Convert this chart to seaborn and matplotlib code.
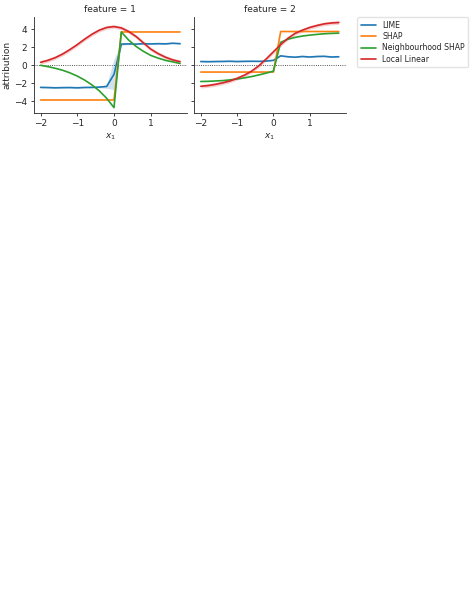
import numpy as np
import pandas as pd
import matplotlib
matplotlib.use('Agg')
import matplotlib.pyplot as plt
import seaborn as sns

# grid of x_1 values
x1 = np.round(np.arange(-2.0, 1.81, 0.2), 1)
methods = ['LIME', 'SHAP', 'Neighbourhood SHAP', 'Local Linear']

# feature = 1
lime_f1 = [-2.45, -2.47, -2.5, -2.48, -2.47, -2.5, -2.46, -2.45, -2.42, -2.35,
           -1.0, 2.35, 2.38, 2.35, 2.4, 2.37, 2.4, 2.38, 2.45, 2.4]
lime_f1_err = [0.06, 0.06, 0.06, 0.06, 0.06, 0.06, 0.06, 0.06, 0.08, 0.2,
               1.7, 0.15, 0.08, 0.06, 0.06, 0.06, 0.06, 0.06, 0.06, 0.06]
shap_f1 = [-3.85] * 11 + [3.7] * 9
nshap_f1 = [0.0, -0.15, -0.33, -0.55, -0.84, -1.2, -1.64, -2.18, -2.84, -3.66,
            -4.7, 3.7, 2.8, 2.1, 1.55, 1.1, 0.8, 0.55, 0.38, 0.2]
loclin_f1 = [0.33, 0.55, 0.85, 1.25, 1.75, 2.3, 2.9, 3.45, 3.9, 4.2,
             4.3, 4.15, 3.75, 3.2, 2.5, 1.8, 1.3, 0.9, 0.6, 0.4]

# feature = 2
lime_f2 = [0.42, 0.4, 0.42, 0.43, 0.45, 0.42, 0.44, 0.45, 0.44, 0.47,
           0.55, 1.05, 0.95, 0.9, 0.98, 0.92, 0.98, 1.0, 0.92, 0.95]
lime_f2_err = [0.05] * 20
shap_f2 = [-0.75] * 11 + [3.75] * 9
nshap_f2 = [-1.8, -1.78, -1.74, -1.7, -1.62, -1.52, -1.4, -1.25, -1.07, -0.87,
            -0.65, 2.55, 2.9, 3.1, 3.25, 3.35, 3.43, 3.5, 3.54, 3.57]
loclin_f2 = [-2.33, -2.25, -2.12, -1.95, -1.75, -1.45, -1.1, -0.65, -0.05, 0.7,
             1.5, 2.3, 3.0, 3.55, 3.9, 4.2, 4.42, 4.6, 4.7, 4.75]
loclin_err = [0.2] * 20

series = {
    1: {'LIME': lime_f1, 'SHAP': shap_f1, 'Neighbourhood SHAP': nshap_f1, 'Local Linear': loclin_f1},
    2: {'LIME': lime_f2, 'SHAP': shap_f2, 'Neighbourhood SHAP': nshap_f2, 'Local Linear': loclin_f2},
}
bands = {
    1: {'LIME': lime_f1_err, 'Local Linear': loclin_err},
    2: {'LIME': lime_f2_err, 'Local Linear': loclin_err},
}

rows = []
for feat, d in series.items():
    for m in methods:
        for xv, yv in zip(x1, d[m]):
            rows.append({'feature': feat, 'method': m, 'x1': xv, 'attribution': yv})
df = pd.DataFrame(rows)

sns.set_theme(style='ticks')
plt.rcParams['font.family'] = ['DejaVu Sans']
plt.rcParams['font.size'] = 6.5
palette = dict(zip(methods, sns.color_palette('tab10', 4)))

fig = plt.figure(figsize=(4.74, 6.11), dpi=100)
ax1 = fig.add_axes([0.0709, 0.815, 0.3237, 0.157])
ax2 = fig.add_axes([0.409, 0.815, 0.3203, 0.157], sharey=ax1)

for ax, feat in [(ax1, 1), (ax2, 2)]:
    sub = df[df['feature'] == feat]
    ax.axhline(0, color='k', ls=':', lw=0.6, zorder=0)
    for m, err in bands[feat].items():
        y = np.array(series[feat][m])
        e = np.array(err)
        ax.fill_between(x1, y - e, y + e, color=palette[m], alpha=0.22, lw=0)
    sns.lineplot(data=sub, x='x1', y='attribution', hue='method', hue_order=methods,
                 palette=palette, lw=1.2, ax=ax, legend=(feat == 1))
    ax.set_title(f'feature = {feat}', fontsize=6.5, pad=4)
    ax.set_xlabel('$x_1$', fontsize=6.5, labelpad=2)
    ax.set_xticks([-2, -1, 0, 1])
    ax.tick_params(labelsize=6.5, length=2.5, width=0.6, pad=2)
    for s in ax.spines.values():
        s.set_linewidth(0.6)
    sns.despine(ax=ax)

ax1.set_ylim(-5.3, 5.35)
ax1.set_yticks([-4, -2, 0, 2, 4])
ax1.set_ylabel('attribution', fontsize=6.5, labelpad=2)
ax2.set_ylabel('')
plt.setp(ax2.get_yticklabels(), visible=False)

handles, labels = ax1.get_legend_handles_labels()
ax1.get_legend().remove()
fig.legend(handles, labels, loc='upper left', bbox_to_anchor=(0.745, 0.978),
           fontsize=5.6, frameon=True, edgecolor='#dddddd', handlelength=2.0,
           labelspacing=0.3, borderpad=0.45)

fig.savefig('out.png', dpi=100)
